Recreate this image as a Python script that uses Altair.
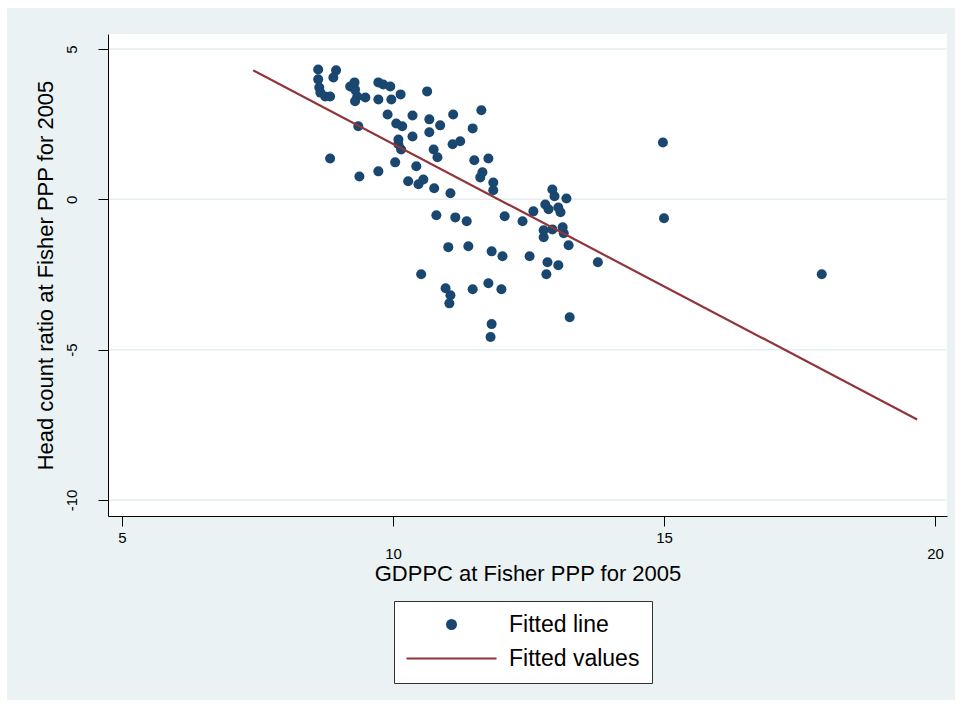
import altair as alt
import pandas as pd

# GDP per capita (log scale units) and head count ratio, 2005
gdppc = [8.62, 8.62, 8.64, 8.66, 8.75, 8.84, 8.95, 8.90, 9.21, 9.29,
         9.30, 9.34, 9.30, 9.49, 9.73, 9.82, 9.95, 9.73, 9.97, 10.14,
         10.63, 9.90, 10.36, 10.67, 10.87, 11.11, 11.63, 10.06, 10.17, 10.36,
         10.67, 11.47, 9.36, 10.10, 10.10, 10.15, 10.75, 10.82, 11.10, 11.24,
         8.84, 10.04, 10.43, 9.73, 9.38, 10.28, 10.47, 10.56, 10.76, 11.06,
         11.50, 11.76, 11.61, 11.65, 11.85, 11.85, 10.80, 11.15, 11.36, 11.02,
         11.39, 11.82, 10.52, 10.97, 11.06, 11.04, 11.47, 11.76, 11.82, 11.80,
         14.98, 12.94, 12.98, 13.20, 12.81, 12.59, 12.87, 13.05, 13.09, 12.06,
         12.39, 12.78, 12.94, 13.13, 13.15, 12.78, 13.24, 12.02, 12.52, 12.85,
         13.05, 12.83, 13.78, 12.00, 13.26, 15.00, 17.91]
headcount = [4.32, 3.99, 3.72, 3.55, 3.42, 3.42, 4.29, 4.05, 3.75, 3.89,
             3.65, 3.42, 3.26, 3.39, 3.89, 3.82, 3.75, 3.32, 3.32, 3.49,
             3.59, 2.82, 2.79, 2.66, 2.46, 2.82, 2.96, 2.52, 2.43, 2.09,
             2.23, 2.36, 2.43, 1.99, 1.83, 1.66, 1.66, 1.40, 1.83, 1.93,
             1.36, 1.23, 1.10, 0.93, 0.76, 0.60, 0.50, 0.66, 0.37, 0.20,
             1.30, 1.36, 0.73, 0.90, 0.56, 0.30, -0.53, -0.60, -0.73, -1.59,
             -1.56, -1.73, -2.49, -2.96, -3.19, -3.46, -2.99, -2.79, -4.15, -4.58,
             1.89, 0.33, 0.10, 0.03, -0.17, -0.40, -0.33, -0.27, -0.43, -0.56,
             -0.73, -1.03, -1.00, -0.93, -1.13, -1.26, -1.53, -1.89, -1.89, -2.09,
             -2.19, -2.49, -2.09, -2.99, -3.92, -0.63, -2.49]

# Linear fit endpoints
fit_x = [7.42, 19.67]
fit_y = [4.29, -7.32]

x_ticks = [5, 10, 15, 20]
y_ticks = [-10, -5, 0, 5]
series = ["Fitted line", "Fitted values"]
series_colors = ["#1a476f", "#90353b"]

W, H = 839, 482
FONT = "Liberation Sans"

pts_df = pd.DataFrame({"x": gdppc, "y": headcount, "series": series[0]})
fit_df = pd.DataFrame({"x": fit_x, "y": fit_y, "series": series[1]})
grid_df = pd.DataFrame({"g": y_ticks})
one = pd.DataFrame({"k": [0]})

xscale = alt.Scale(domain=[4.742, 20.221], nice=False, zero=False)
yscale = alt.Scale(domain=[-10.532, 5.499], nice=False, zero=False)

# axes sit above the background rectangles (zindex=1)
xaxis = alt.Axis(
    values=x_ticks, title="GDPPC at Fisher PPP for 2005",
    labelExpr="datum.value % 10 == 0 ? ['', datum.label] : datum.label",
    labelBaseline="top", labelAlign="center", labelLineHeight=16,
    labelPadding=4, labelFlush=False, labelOverlap=False,
    titleY=57, titleBaseline="middle", grid=False, zindex=1,
)
yaxis = alt.Axis(
    values=y_ticks, title="Head count ratio at Fisher PPP for 2005",
    labelExpr="datum.value < 0 ? '-' + abs(datum.value) : '' + datum.value",
    labelAngle=270, labelAlign="center", labelBaseline="middle",
    labelPadding=27, labelFlush=False, labelOverlap=False,
    titleAngle=270, titleX=-63, titleY=H / 2, titleAlign="center",
    titleBaseline="middle", grid=False, zindex=1,
)
legend = alt.Legend(title=None, orient="none", legendX=286, legendY=567)
cscale = alt.Scale(domain=series, range=series_colors)
sscale = alt.Scale(domain=series, range=["circle", "M-10,0H10"])

outer = alt.Chart(one).mark_rect(color="#eaf2f3").encode(
    x=alt.value(-101), x2=alt.value(847), y=alt.value(-26), y2=alt.value(666))
panel = alt.Chart(one).mark_rect(color="white").encode(
    x=alt.value(0), x2=alt.value(W), y=alt.value(0), y2=alt.value(H))
grid = alt.Chart(grid_df).mark_rule(color="#e4eef0", strokeWidth=1.5).encode(
    y=alt.Y("g:Q", scale=yscale, axis=yaxis), x=alt.value(0), x2=alt.value(W))

pts = alt.Chart(pts_df).mark_point(filled=True, size=100, opacity=1).encode(
    x=alt.X("x:Q", scale=xscale, axis=xaxis),
    y=alt.Y("y:Q", scale=yscale, axis=yaxis),
    color=alt.Color("series:N", scale=cscale, legend=legend),
    shape=alt.Shape("series:N", scale=sscale, legend=legend),
)
fit = alt.Chart(fit_df).mark_line(strokeWidth=2.2).encode(
    x=alt.X("x:Q", scale=xscale, axis=xaxis),
    y=alt.Y("y:Q", scale=yscale, axis=yaxis),
    color=alt.Color("series:N", scale=cscale, legend=legend),
)

chart = alt.layer(outer, panel, grid, pts, fit).properties(
    width=W, height=H,
    autosize=alt.AutoSizeParams(type="none"),
    padding={"left": 108, "top": 34, "right": 15, "bottom": 191},
    background="white",
).configure_view(stroke=None).configure_axis(
    domainColor="black", domainWidth=1, tickColor="black", tickWidth=1,
    tickSize=10, labelFont=FONT, labelFontSize=15, labelColor="black",
    titleFont=FONT, titleFontSize=22, titleFontWeight="normal", titleColor="black",
).configure_legend(
    fillColor="white", strokeColor="#333333", padding=12,
    labelFont=FONT, labelFontSize=23, labelColor="black",
    symbolSize=81, symbolStrokeWidth=2, symbolOffset=34, labelOffset=46,
    rowPadding=10, labelLimit=400,
)

chart.save("out.html", embed_options={"renderer": "svg", "actions": False})
